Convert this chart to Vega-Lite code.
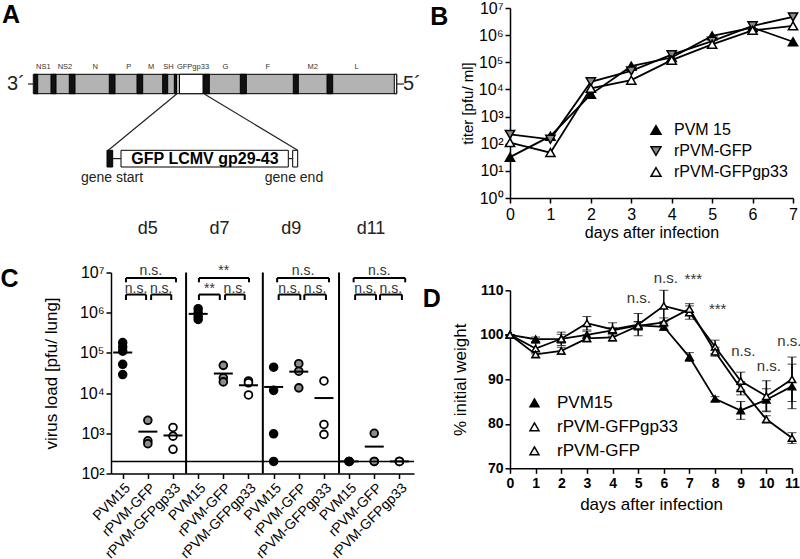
{
  "$schema": "https://vega.github.io/schema/vega-lite/v6.json",
  "background": "white",
  "padding": {"left": 0, "top": 0, "right": 5, "bottom": 5},
  "config": {
    "view": {"stroke": null},
    "font": "Liberation Sans",
    "text": {"font": "Liberation Sans", "color": "black"},
    "axis": {
      "domainColor": "black", "domainWidth": 1.5, "tickColor": "black", "tickWidth": 1.5, "tickSize": 5,
      "labelColor": "black", "titleColor": "black", "grid": false, "labelFont": "Liberation Sans",
      "titleFont": "Liberation Sans", "titleFontWeight": "normal", "labelOverlap": false
    }
  },
  "spacing": 1,
  "resolve": {"scale": {"fill": "independent", "shape": "independent", "stroke": "independent"}, "legend": {"fill": "independent", "shape": "independent", "stroke": "independent"}},
  "hconcat": [
    {
      "bounds": "flush",
      "spacing": 24.5,
      "resolve": {"scale": {"fill": "independent", "shape": "independent", "stroke": "independent"}, "legend": {"fill": "independent", "shape": "independent", "stroke": "independent"}},
      "vconcat": [
        {
          "width": 303,
          "height": 240,
          "layer": [
            {
              "data": {"values": [
                {"part": "gene", "x1": 32.3, "x2": 395.7, "y1": 73.3, "y2": 92.7},
                {"part": "junction", "x1": 33.3, "x2": 36.7, "y1": 73.3, "y2": 92.7},
                {"part": "junction", "x1": 50, "x2": 55, "y1": 73.3, "y2": 92.7},
                {"part": "junction", "x1": 68.3, "x2": 74, "y1": 73.3, "y2": 92.7},
                {"part": "junction", "x1": 108.3, "x2": 114, "y1": 73.3, "y2": 92.7},
                {"part": "junction", "x1": 136, "x2": 141.7, "y1": 73.3, "y2": 92.7},
                {"part": "junction", "x1": 161.7, "x2": 166.7, "y1": 73.3, "y2": 92.7},
                {"part": "junction", "x1": 173.3, "x2": 175.5, "y1": 73.3, "y2": 92.7},
                {"part": "junction", "x1": 202.7, "x2": 208.3, "y1": 73.3, "y2": 92.7},
                {"part": "junction", "x1": 239.3, "x2": 245.3, "y1": 73.3, "y2": 92.7},
                {"part": "junction", "x1": 292.3, "x2": 297.3, "y1": 73.3, "y2": 92.7},
                {"part": "junction", "x1": 326, "x2": 331.7, "y1": 73.3, "y2": 92.7},
                {"part": "insert", "x1": 178.5, "x2": 202, "y1": 73.3, "y2": 92.7},
                {"part": "insert", "x1": 393.3, "x2": 395.7, "y1": 73.3, "y2": 92.7},
                {"part": "junction", "x1": 106, "x2": 111.7, "y1": 149.3, "y2": 166},
                {"part": "insert", "x1": 120, "x2": 287.3, "y1": 149.3, "y2": 166},
                {"part": "insert", "x1": 291.7, "x2": 296.7, "y1": 149.3, "y2": 166}
              ]},
              "mark": {"type": "rect", "stroke": "black", "strokeWidth": 1},
              "encoding": {
                "x": {"field": "x1", "type": "quantitative", "scale": {"domain": [110, 413], "nice": false, "zero": false}, "axis": null},
                "x2": {"field": "x2"},
                "y": {"field": "y1", "type": "quantitative", "scale": {"domain": [7, 247], "reverse": true, "nice": false, "zero": false}, "axis": null},
                "y2": {"field": "y2"},
                "fill": {"field": "part", "type": "nominal", "scale": {"domain": ["gene", "junction", "insert"], "range": ["#b3b3b3", "#111111", "#ffffff"]}, "legend": null}
              }
            },
            {
              "data": {"values": [
                {"x1": 27, "y1": 83, "x2": 32.3, "y2": 83},
                {"x1": 395.7, "y1": 83, "x2": 403, "y2": 83},
                {"x1": 175.7, "y1": 93, "x2": 107.3, "y2": 149.3},
                {"x1": 203.3, "y1": 93, "x2": 296.7, "y2": 149.3},
                {"x1": 111.7, "y1": 157.6, "x2": 120, "y2": 157.6},
                {"x1": 287.3, "y1": 157.6, "x2": 291.7, "y2": 157.6}
              ]},
              "mark": {"type": "rule", "color": "#222222", "strokeWidth": 1.2},
              "encoding": {
                "x": {"field": "x1", "type": "quantitative", "scale": {"domain": [110, 413], "nice": false, "zero": false}, "axis": null},
                "x2": {"field": "x2"},
                "y": {"field": "y1", "type": "quantitative", "scale": {"domain": [7, 247], "reverse": true, "nice": false, "zero": false}, "axis": null},
                "y2": {"field": "y2"}
              }
            },
            {
              "data": {"values": [
                {"g": "NS1", "x": 42.3, "y": 66}, {"g": "NS2", "x": 64, "y": 66}, {"g": "N", "x": 94.3, "y": 66},
                {"g": "P", "x": 127.7, "y": 66}, {"g": "M", "x": 150, "y": 66}, {"g": "SH", "x": 167.5, "y": 66},
                {"g": "GFPgp33", "x": 192, "y": 66}, {"g": "G", "x": 224.3, "y": 66}, {"g": "F", "x": 266.7, "y": 66},
                {"g": "M2", "x": 311.7, "y": 66}, {"g": "L", "x": 355.7, "y": 66}
              ]},
              "mark": {"type": "text", "fontSize": 7.5, "color": "#333333", "baseline": "middle"},
              "encoding": {
                "x": {"field": "x", "type": "quantitative"},
                "y": {"field": "y", "type": "quantitative"},
                "text": {"field": "g"}
              }
            },
            {
              "data": {"values": [{"t": "3´", "x": 15, "y": 83}, {"t": "5´", "x": 411, "y": 83}]},
              "mark": {"type": "text", "fontSize": 20, "baseline": "middle", "color": "#222222"},
              "encoding": {
                "x": {"field": "x", "type": "quantitative"},
                "y": {"field": "y", "type": "quantitative"},
                "text": {"field": "t"}
              }
            },
            {
              "data": {"values": [{"t": "GFP LCMV gp29-43", "x": 204, "y": 158}]},
              "mark": {"type": "text", "fontSize": 16, "fontWeight": "bold", "baseline": "middle"},
              "encoding": {
                "x": {"field": "x", "type": "quantitative"},
                "y": {"field": "y", "type": "quantitative"},
                "text": {"field": "t"}
              }
            },
            {
              "data": {"values": [{"t": "gene start", "x": 111, "y": 177}, {"t": "gene end", "x": 293, "y": 177}]},
              "mark": {"type": "text", "fontSize": 14, "baseline": "middle", "color": "#222222"},
              "encoding": {
                "x": {"field": "x", "type": "quantitative"},
                "y": {"field": "y", "type": "quantitative"},
                "text": {"field": "t"}
              }
            },
            {
              "data": {"values": [{"t": "A", "x": 10, "y": 14}]},
              "mark": {"type": "text", "fontSize": 25, "fontWeight": "bold", "baseline": "middle"},
              "encoding": {
                "x": {"field": "x", "type": "quantitative"},
                "y": {"field": "y", "type": "quantitative"},
                "text": {"field": "t"}
              }
            }
          ]
        },
        {
          "width": 303,
          "height": 201,
          "layer": [
            {
              "data": {"name": "dots", "values": [
                {"day": "d5", "strain": "PVM15", "idx": 1, "v": 180000},
                {"day": "d5", "strain": "PVM15", "idx": 1, "v": 140000},
                {"day": "d5", "strain": "PVM15", "idx": 1, "v": 110000},
                {"day": "d5", "strain": "PVM15", "idx": 1, "v": 52000},
                {"day": "d5", "strain": "PVM15", "idx": 1, "v": 29000},
                {"day": "d5", "strain": "rPVM-GFP", "idx": 2, "v": 2100},
                {"day": "d5", "strain": "rPVM-GFP", "idx": 2, "v": 650},
                {"day": "d5", "strain": "rPVM-GFP", "idx": 2, "v": 550},
                {"day": "d5", "strain": "rPVM-GFPgp33", "idx": 3, "v": 1400},
                {"day": "d5", "strain": "rPVM-GFPgp33", "idx": 3, "v": 850},
                {"day": "d5", "strain": "rPVM-GFPgp33", "idx": 3, "v": 400},
                {"day": "d7", "strain": "PVM15", "idx": 4, "v": 1260000},
                {"day": "d7", "strain": "PVM15", "idx": 4, "v": 1000000},
                {"day": "d7", "strain": "PVM15", "idx": 4, "v": 800000},
                {"day": "d7", "strain": "PVM15", "idx": 4, "v": 680000},
                {"day": "d7", "strain": "rPVM-GFP", "idx": 5, "v": 49000},
                {"day": "d7", "strain": "rPVM-GFP", "idx": 5, "v": 24000},
                {"day": "d7", "strain": "rPVM-GFP", "idx": 5, "v": 19000},
                {"day": "d7", "strain": "rPVM-GFPgp33", "idx": 6, "v": 20000},
                {"day": "d7", "strain": "rPVM-GFPgp33", "idx": 6, "v": 18000},
                {"day": "d7", "strain": "rPVM-GFPgp33", "idx": 6, "v": 9000},
                {"day": "d9", "strain": "PVM15", "idx": 7, "v": 44000},
                {"day": "d9", "strain": "PVM15", "idx": 7, "v": 11700},
                {"day": "d9", "strain": "PVM15", "idx": 7, "v": 970},
                {"day": "d9", "strain": "PVM15", "idx": 7, "v": 200},
                {"day": "d9", "strain": "rPVM-GFP", "idx": 8, "v": 54000},
                {"day": "d9", "strain": "rPVM-GFP", "idx": 8, "v": 35000},
                {"day": "d9", "strain": "rPVM-GFP", "idx": 8, "v": 13500},
                {"day": "d9", "strain": "rPVM-GFPgp33", "idx": 9, "v": 20000},
                {"day": "d9", "strain": "rPVM-GFPgp33", "idx": 9, "v": 1660},
                {"day": "d9", "strain": "rPVM-GFPgp33", "idx": 9, "v": 940},
                {"day": "d11", "strain": "PVM15", "idx": 10, "v": 200},
                {"day": "d11", "strain": "PVM15", "idx": 10, "v": 200},
                {"day": "d11", "strain": "PVM15", "idx": 10, "v": 200},
                {"day": "d11", "strain": "rPVM-GFP", "idx": 11, "v": 1000},
                {"day": "d11", "strain": "rPVM-GFP", "idx": 11, "v": 200},
                {"day": "d11", "strain": "rPVM-GFP", "idx": 11, "v": 200},
                {"day": "d11", "strain": "rPVM-GFPgp33", "idx": 12, "v": 200},
                {"day": "d11", "strain": "rPVM-GFPgp33", "idx": 12, "v": 200},
                {"day": "d11", "strain": "rPVM-GFPgp33", "idx": 12, "v": 200}
              ]},
              "mark": {"type": "point", "shape": "circle", "filled": true, "stroke": "black", "strokeWidth": 1.8, "size": 60, "opacity": 1},
              "encoding": {
                "x": {"field": "idx", "type": "quantitative", "scale": {"domain": [0.535, 12.58], "nice": false, "zero": false},
                  "axis": {"values": [1, 2, 3, 4, 5, 6, 7, 8, 9, 10, 11, 12], "tickCount": 24, "title": null, "labelExpr": "['PVM15','rPVM-GFP','rPVM-GFPgp33'][(datum.value-1)%3]",
                    "labelAngle": -45, "labelAlign": "right", "labelBaseline": "top", "labelFontSize": 14, "labelPadding": 2, "labelOverlap": false, "labelFlush": false, "labelBound": false}},
                "y": {"field": "v", "type": "quantitative", "scale": {"type": "log", "domain": [100, 10000000], "nice": false},
                  "axis": {"values": [100, 1000, 10000, 100000, 1000000, 10000000], "tickCount": 12, "labelExpr": "'10' + ['⁰','¹','²','³','⁴','⁵','⁶','⁷'][round(log(datum.value)/LN10)]",
                    "title": "virus load [pfu/ lung]", "labelFontSize": 16, "titleFontSize": 17, "titlePadding": 19, "labelOverlap": false}},
                "fill": {"field": "strain", "type": "nominal", "scale": {"domain": ["PVM15", "rPVM-GFP", "rPVM-GFPgp33"], "range": ["black", "#8c8c8c", "white"]}, "legend": null}
              }
            },
            {
              "data": {"name": "dots"},
              "mark": {"type": "point", "shape": "stroke", "size": 360, "stroke": "black", "strokeWidth": 2},
              "encoding": {
                "x": {"field": "idx", "type": "quantitative"},
                "y": {"aggregate": "mean", "field": "v", "type": "quantitative"}
              }
            },
            {
              "data": {"values": [{"limit": 200}]},
              "mark": {"type": "rule", "color": "black", "strokeWidth": 1.5},
              "encoding": {"y": {"field": "limit", "type": "quantitative"}}
            },
            {
              "data": {"values": [{"sep": 3.52}, {"sep": 6.57}, {"sep": 9.6}]},
              "mark": {"type": "rule", "color": "black", "strokeWidth": 2},
              "encoding": {"x": {"field": "sep", "type": "quantitative"}}
            },
            {
              "data": {"name": "brackets", "values": [
                {"x1": 1.13, "x2": 3.12, "hi": 7300000, "lo": 5700000, "xm": 2.12, "ty": 10900000, "lab": "n.s."},
                {"x1": 4.03, "x2": 6.02, "hi": 7300000, "lo": 5700000, "xm": 5.02, "ty": 10900000, "lab": "**"},
                {"x1": 7.14, "x2": 9.2, "hi": 7300000, "lo": 5700000, "xm": 8.17, "ty": 10900000, "lab": "n.s."},
                {"x1": 10.18, "x2": 12.23, "hi": 7300000, "lo": 5700000, "xm": 11.2, "ty": 10900000, "lab": "n.s."},
                {"x1": 1.13, "x2": 1.93, "hi": 2830000, "lo": 2070000, "xm": 1.53, "ty": 3980000, "lab": "n.s."},
                {"x1": 2.13, "x2": 2.93, "hi": 2830000, "lo": 2070000, "xm": 2.53, "ty": 3980000, "lab": "n.s."},
                {"x1": 4.03, "x2": 4.86, "hi": 2830000, "lo": 2070000, "xm": 4.45, "ty": 3980000, "lab": "**"},
                {"x1": 5.07, "x2": 5.85, "hi": 2830000, "lo": 2070000, "xm": 5.46, "ty": 3980000, "lab": "n.s."},
                {"x1": 7.2, "x2": 8.06, "hi": 2830000, "lo": 2070000, "xm": 7.63, "ty": 3980000, "lab": "n.s."},
                {"x1": 8.22, "x2": 9.08, "hi": 2830000, "lo": 2070000, "xm": 8.65, "ty": 3980000, "lab": "n.s."},
                {"x1": 10.24, "x2": 11.07, "hi": 2830000, "lo": 2070000, "xm": 10.65, "ty": 3980000, "lab": "n.s."},
                {"x1": 11.23, "x2": 12.1, "hi": 2830000, "lo": 2070000, "xm": 11.66, "ty": 3980000, "lab": "n.s."}
              ]},
              "mark": {"type": "rule", "color": "black", "strokeWidth": 2},
              "encoding": {
                "x": {"field": "x1", "type": "quantitative"},
                "x2": {"field": "x2"},
                "y": {"field": "hi", "type": "quantitative"}
              }
            },
            {
              "data": {"name": "brackets"},
              "mark": {"type": "rule", "color": "black", "strokeWidth": 2},
              "encoding": {
                "x": {"field": "x1", "type": "quantitative"},
                "y": {"field": "lo", "type": "quantitative"},
                "y2": {"field": "hi"}
              }
            },
            {
              "data": {"name": "brackets"},
              "mark": {"type": "rule", "color": "black", "strokeWidth": 2},
              "encoding": {
                "x": {"field": "x2", "type": "quantitative"},
                "y": {"field": "lo", "type": "quantitative"},
                "y2": {"field": "hi"}
              }
            },
            {
              "data": {"name": "brackets"},
              "mark": {"type": "text", "fontSize": 14, "baseline": "middle", "color": "#333333"},
              "encoding": {
                "x": {"field": "xm", "type": "quantitative"},
                "y": {"field": "ty", "type": "quantitative"},
                "text": {"field": "lab"}
              }
            },
            {
              "data": {"values": [
                {"lab": "d5", "xm": 2.0, "ty": 123000000},
                {"lab": "d7", "xm": 4.85, "ty": 123000000},
                {"lab": "d9", "xm": 7.7, "ty": 123000000},
                {"lab": "d11", "xm": 10.87, "ty": 123000000}
              ]},
              "mark": {"type": "text", "fontSize": 18, "baseline": "middle", "color": "#222222"},
              "encoding": {
                "x": {"field": "xm", "type": "quantitative"},
                "y": {"field": "ty", "type": "quantitative"},
                "text": {"field": "lab"}
              }
            },
            {
              "data": {"values": [{"t": "C", "xm": -3.5, "ty": 6900000}]},
              "mark": {"type": "text", "fontSize": 25, "fontWeight": "bold", "baseline": "middle"},
              "encoding": {
                "x": {"field": "xm", "type": "quantitative"},
                "y": {"field": "ty", "type": "quantitative"},
                "text": {"field": "t"}
              }
            }
          ]
        }
      ]
    },
    {
      "bounds": "flush",
      "spacing": 92.3,
      "resolve": {"scale": {"fill": "independent", "shape": "independent", "stroke": "independent"}, "legend": {"fill": "independent", "shape": "independent", "stroke": "independent"}},
      "vconcat": [
        {
          "width": 283,
          "height": 190,
          "layer": [
            {
              "data": {"name": "titer", "values": [
                {"strain": "PVM 15", "day": 0, "titer": 32}, {"strain": "PVM 15", "day": 1, "titer": 190},
                {"strain": "PVM 15", "day": 2, "titer": 6600}, {"strain": "PVM 15", "day": 3, "titer": 72000},
                {"strain": "PVM 15", "day": 4, "titer": 150000}, {"strain": "PVM 15", "day": 5, "titer": 940000},
                {"strain": "PVM 15", "day": 6, "titer": 1900000}, {"strain": "PVM 15", "day": 7, "titer": 570000},
                {"strain": "rPVM-GFP", "day": 0, "titer": 220}, {"strain": "rPVM-GFP", "day": 1, "titer": 145},
                {"strain": "rPVM-GFP", "day": 2, "titer": 19000}, {"strain": "rPVM-GFP", "day": 3, "titer": 48000},
                {"strain": "rPVM-GFP", "day": 4, "titer": 190000}, {"strain": "rPVM-GFP", "day": 5, "titer": 600000},
                {"strain": "rPVM-GFP", "day": 6, "titer": 2200000}, {"strain": "rPVM-GFP", "day": 7, "titer": 4700000},
                {"strain": "rPVM-GFPgp33", "day": 0, "titer": 110}, {"strain": "rPVM-GFPgp33", "day": 1, "titer": 47},
                {"strain": "rPVM-GFPgp33", "day": 2, "titer": 11000}, {"strain": "rPVM-GFPgp33", "day": 3, "titer": 22000},
                {"strain": "rPVM-GFPgp33", "day": 4, "titer": 120000}, {"strain": "rPVM-GFPgp33", "day": 5, "titer": 460000},
                {"strain": "rPVM-GFPgp33", "day": 6, "titer": 1500000}, {"strain": "rPVM-GFPgp33", "day": 7, "titer": 2200000}
              ]},
              "mark": {"type": "line", "color": "black", "strokeWidth": 1.8},
              "encoding": {
                "x": {"field": "day", "type": "quantitative", "scale": {"domain": [0, 7], "nice": false},
                  "axis": {"values": [0, 1, 2, 3, 4, 5, 6, 7], "tickCount": 16, "format": "d", "title": "days after infection", "labelFontSize": 16, "titleFontSize": 16, "titlePadding": 2, "labelPadding": 3, "labelOverlap": false, "labelFlush": false}},
                "y": {"field": "titer", "type": "quantitative", "scale": {"type": "log", "domain": [1, 10000000], "nice": false},
                  "axis": {"values": [1, 10, 100, 1000, 10000, 100000, 1000000, 10000000], "tickCount": 16, "labelExpr": "'10' + ['⁰','¹','²','³','⁴','⁵','⁶','⁷'][round(log(datum.value)/LN10)]",
                    "title": "titer [pfu/ ml]", "labelFontSize": 16, "titleFontSize": 15, "titlePadding": 3, "labelOverlap": false}},
                "detail": {"field": "strain"}
              }
            },
            {
              "data": {"name": "titer"},
              "mark": {"type": "point", "filled": true, "strokeWidth": 1.5, "size": 85, "opacity": 1},
              "encoding": {
                "x": {"field": "day", "type": "quantitative"},
                "y": {"field": "titer", "type": "quantitative"},
                "shape": {"field": "strain", "type": "nominal", "scale": {"domain": ["PVM 15", "rPVM-GFP", "rPVM-GFPgp33"], "range": ["triangle-up", "triangle-down", "triangle-up"]},
                  "legend": {"title": null, "orient": "none", "legendX": 138, "legendY": 114, "labelFontSize": 16, "symbolSize": 100, "symbolStrokeWidth": 1.5, "rowPadding": 5, "labelOffset": 10, "labelColor": "black"}},
                "fill": {"field": "strain", "type": "nominal", "scale": {"domain": ["PVM 15", "rPVM-GFP", "rPVM-GFPgp33"], "range": ["black", "#8c8c8c", "white"]},
                  "legend": {"title": null, "orient": "none", "legendX": 138, "legendY": 114, "labelFontSize": 16, "symbolSize": 100, "symbolStrokeWidth": 1.5, "rowPadding": 5, "labelOffset": 10, "labelColor": "black"}},
                "stroke": {"field": "strain", "type": "nominal", "scale": {"domain": ["PVM 15", "rPVM-GFP", "rPVM-GFPgp33"], "range": ["black", "black", "black"]},
                  "legend": {"title": null, "orient": "none", "legendX": 138, "legendY": 114, "labelFontSize": 16, "symbolSize": 100, "symbolStrokeWidth": 1.5, "rowPadding": 5, "labelOffset": 10, "labelColor": "black"}}
              }
            },
            {
              "data": {"values": [{"t": "B", "day": -1.75, "titer": 4700000}]},
              "mark": {"type": "text", "fontSize": 25, "fontWeight": "bold", "baseline": "middle"},
              "encoding": {
                "x": {"field": "day", "type": "quantitative"},
                "y": {"field": "titer", "type": "quantitative"},
                "text": {"field": "t"}
              }
            }
          ]
        },
        {
          "width": 282,
          "height": 178,
          "layer": [
            {
              "data": {"name": "weight", "values": [
                {"strain": "PVM15", "day": 0, "w": 100, "se": 0}, {"strain": "PVM15", "day": 1, "w": 99.0, "se": 0.5},
                {"strain": "PVM15", "day": 2, "w": 99.1, "se": 1.0}, {"strain": "PVM15", "day": 3, "w": 100.0, "se": 0.8},
                {"strain": "PVM15", "day": 4, "w": 101.0, "se": 0.6}, {"strain": "PVM15", "day": 5, "w": 102.1, "se": 0.8},
                {"strain": "PVM15", "day": 6, "w": 101.8, "se": 0.8}, {"strain": "PVM15", "day": 7, "w": 95.0, "se": 1.0},
                {"strain": "PVM15", "day": 8, "w": 85.6, "se": 0.5}, {"strain": "PVM15", "day": 9, "w": 83.0, "se": 2.0},
                {"strain": "PVM15", "day": 10, "w": 85.4, "se": 2.5}, {"strain": "PVM15", "day": 11, "w": 88.4, "se": 5.0},
                {"strain": "rPVM-GFPgp33", "day": 0, "w": 100, "se": 0}, {"strain": "rPVM-GFPgp33", "day": 1, "w": 96.9, "se": 1.2},
                {"strain": "rPVM-GFPgp33", "day": 2, "w": 99.1, "se": 1.5}, {"strain": "rPVM-GFPgp33", "day": 3, "w": 102.6, "se": 1.5},
                {"strain": "rPVM-GFPgp33", "day": 4, "w": 101.2, "se": 1.5}, {"strain": "rPVM-GFPgp33", "day": 5, "w": 102.3, "se": 2.5},
                {"strain": "rPVM-GFPgp33", "day": 6, "w": 106.5, "se": 3.5}, {"strain": "rPVM-GFPgp33", "day": 7, "w": 105.0, "se": 1.5},
                {"strain": "rPVM-GFPgp33", "day": 8, "w": 97.3, "se": 1.5}, {"strain": "rPVM-GFPgp33", "day": 9, "w": 89.6, "se": 2.0},
                {"strain": "rPVM-GFPgp33", "day": 10, "w": 86.2, "se": 3.5}, {"strain": "rPVM-GFPgp33", "day": 11, "w": 90.0, "se": 5.0},
                {"strain": "rPVM-GFP", "day": 0, "w": 100, "se": 0}, {"strain": "rPVM-GFP", "day": 1, "w": 95.6, "se": 0.8},
                {"strain": "rPVM-GFP", "day": 2, "w": 96.4, "se": 0.8}, {"strain": "rPVM-GFP", "day": 3, "w": 99.2, "se": 0.8},
                {"strain": "rPVM-GFP", "day": 4, "w": 99.4, "se": 0.8}, {"strain": "rPVM-GFP", "day": 5, "w": 102.0, "se": 1.0},
                {"strain": "rPVM-GFP", "day": 6, "w": 102.8, "se": 1.0}, {"strain": "rPVM-GFP", "day": 7, "w": 105.8, "se": 1.2},
                {"strain": "rPVM-GFP", "day": 8, "w": 96.2, "se": 1.0}, {"strain": "rPVM-GFP", "day": 9, "w": 88.0, "se": 1.5},
                {"strain": "rPVM-GFP", "day": 10, "w": 81.0, "se": 0.8}, {"strain": "rPVM-GFP", "day": 11, "w": 76.8, "se": 1.2}
              ]},
              "mark": {"type": "errorbar", "ticks": {"size": 9, "color": "black", "strokeWidth": 1.5}, "rule": {"color": "black", "strokeWidth": 1.5}},
              "encoding": {
                "x": {"field": "day", "type": "quantitative", "scale": {"domain": [0, 11], "nice": false},
                  "axis": {"values": [0, 1, 2, 3, 4, 5, 6, 7, 8, 9, 10, 11], "tickCount": 24, "format": "d", "title": "days after infection", "labelFontSize": 14, "labelFontWeight": "bold", "titleFontSize": 17, "titlePadding": 6, "labelPadding": 3, "labelOverlap": false, "labelFlush": false}},
                "y": {"field": "w", "type": "quantitative", "scale": {"domain": [70, 110], "nice": false, "zero": false},
                  "axis": {"values": [70, 80, 90, 100, 110], "tickCount": 10, "format": "d", "title": "% initial weight", "labelFontSize": 14, "labelFontWeight": "bold", "titleFontSize": 17, "titlePadding": 10, "labelOverlap": false}},
                "yError": {"field": "se"},
                "detail": {"field": "strain"}
              }
            },
            {
              "data": {"name": "weight"},
              "mark": {"type": "line", "color": "black", "strokeWidth": 1.8},
              "encoding": {
                "x": {"field": "day", "type": "quantitative"},
                "y": {"field": "w", "type": "quantitative"},
                "detail": {"field": "strain"}
              }
            },
            {
              "data": {"name": "weight"},
              "mark": {"type": "point", "shape": "triangle-up", "filled": true, "stroke": "black", "strokeWidth": 1.5, "size": 55, "opacity": 1},
              "encoding": {
                "x": {"field": "day", "type": "quantitative"},
                "y": {"field": "w", "type": "quantitative"},
                "fill": {"field": "strain", "type": "nominal", "scale": {"domain": ["PVM15", "rPVM-GFPgp33", "rPVM-GFP"], "range": ["black", "white", "#eeeeee"]},
                  "legend": {"title": null, "orient": "none", "legendX": 16, "legendY": 104, "labelFontSize": 17, "symbolType": "triangle-up", "symbolSize": 80, "symbolStrokeColor": "black", "symbolStrokeWidth": 1.5, "rowPadding": 6, "labelOffset": 14, "labelColor": "black"}}
              }
            },
            {
              "data": {"values": [
                {"lab": "n.s.", "day": 6.08, "w": 112.8}, {"lab": "***", "day": 7.15, "w": 112.5},
                {"lab": "n.s.", "day": 5.03, "w": 108.3}, {"lab": "***", "day": 8.1, "w": 105.7},
                {"lab": "n.s.", "day": 9.1, "w": 96.3}, {"lab": "n.s.", "day": 10.1, "w": 92.9},
                {"lab": "n.s.", "day": 10.9, "w": 98.6}
              ]},
              "mark": {"type": "text", "fontSize": 15, "baseline": "middle", "color": "#333333"},
              "encoding": {
                "x": {"field": "day", "type": "quantitative"},
                "y": {"field": "w", "type": "quantitative"},
                "text": {"field": "lab"}
              }
            },
            {
              "data": {"values": [{"t": "D", "day": -3.05, "w": 108}]},
              "mark": {"type": "text", "fontSize": 25, "fontWeight": "bold", "baseline": "middle"},
              "encoding": {
                "x": {"field": "day", "type": "quantitative"},
                "y": {"field": "w", "type": "quantitative"},
                "text": {"field": "t"}
              }
            }
          ]
        }
      ]
    }
  ]
}
